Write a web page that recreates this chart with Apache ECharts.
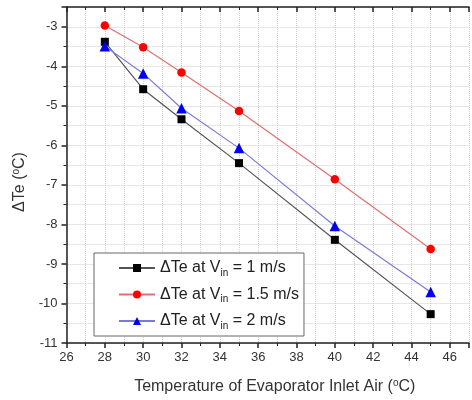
<!DOCTYPE html>
<html><head><meta charset="utf-8">
<script src="https://cdn.jsdelivr.net/npm/echarts@6/dist/echarts.min.js"></script>
<style>html,body{margin:0;padding:0;background:#fff}#c{width:472px;height:400px}</style>
</head><body><div id="c"></div>
<script>
var xValues = [28, 30, 32, 35, 40, 45];
var seriesNames = ['1', '1.5', '2'];
var v1 = [-3.38, -4.58, -5.34, -6.45, -8.39, -10.27];
var v15 = [-2.97, -3.52, -4.16, -5.13, -6.86, -8.62];
var v2 = [-3.49, -4.18, -5.06, -6.07, -8.04, -9.71];
var xTickLabels = [26, 28, 30, 32, 34, 36, 38, 40, 42, 44, 46];
var yTickLabels = [-3, -4, -5, -6, -7, -8, -9, -10, -11];

function pairs(v){ return xValues.map(function(x,i){ return [x, v[i]]; }); }
var font = '"Liberation Sans", Arial, sans-serif';
var chart = echarts.init(document.getElementById('c'), null, {renderer:'canvas'});
var axisLineStyle = {color:'#222', width:1.5};
var gridLine = {show:true, lineStyle:{color:'#cfcfcf', type:'dotted', width:1}};
chart.setOption({
  animation:false,
  backgroundColor:'#fff',
  grid:{left:66.5, top:7, right:-9.5, bottom:56, containLabel:false},
  xAxis:[{
    type:'value', min:26, max:47, interval:2,
    axisLine:{show:true, onZero:false, lineStyle:axisLineStyle},
    axisTick:{show:true, inside:false, length:5, lineStyle:{color:'#222', width:1.5}},
    minorTick:{show:true, splitNumber:2, length:3, lineStyle:{color:'#222', width:1}},
    splitLine:gridLine,
    minorSplitLine:gridLine,
    axisLabel:{color:'#333', fontFamily:font, fontSize:13, margin:8,
      formatter:function(v){ return xTickLabels.indexOf(v) >= 0 ? String(v) : ''; }},
    name:'Temperature of Evaporator Inlet Air ({s|o}C)',
    nameLocation:'middle', nameGap:35,
    nameTextStyle:{color:'#333', fontFamily:font, fontSize:16, padding:[0,0,0,14],
      rich:{s:{fontSize:10, verticalAlign:'top', padding:[0,0,8,0], fontFamily:font, color:'#333'}}}
  },{
    type:'value', position:'top', min:26, max:47, interval:2,
    axisLine:{show:true, onZero:false, lineStyle:axisLineStyle},
    axisTick:{show:true, inside:true, length:5, lineStyle:{color:'#222', width:1.5}},
    minorTick:{show:true, splitNumber:2, length:3, lineStyle:{color:'#222', width:1}},
    axisLabel:{show:false}, splitLine:{show:false}
  }],
  yAxis:{
    type:'value', min:-11, max:-2.5, interval:1,
    axisLine:{show:true, onZero:false, lineStyle:axisLineStyle},
    axisTick:{show:true, inside:false, length:5, lineStyle:{color:'#222', width:1.5}},
    minorTick:{show:true, splitNumber:2, length:3, lineStyle:{color:'#222', width:1}},
    splitLine:gridLine,
    minorSplitLine:gridLine,
    axisLabel:{color:'#333', fontFamily:font, fontSize:13, margin:9,
      formatter:function(v){ return yTickLabels.indexOf(v) >= 0 ? String(v) : ''; }},
    name:'ΔTe ({s|o}C)', nameLocation:'middle', nameGap:25, nameRotate:90,
    nameTextStyle:{color:'#333', fontFamily:font, fontSize:16, padding:[0,14,0,0],
      rich:{s:{fontSize:10, verticalAlign:'top', padding:[0,0,8,0], fontFamily:font, color:'#333'}}}
  },
  legend:{
    orient:'vertical', left:94, top:253,
    backgroundColor:'#fff', borderColor:'#666', borderWidth:1,
    padding:[7, 5, 5, 24], itemGap:8.5, itemWidth:36, itemHeight:10,
    data:seriesNames.map(function(n){ return 'ΔTe at V_in = ' + n + ' m/s'; }),
    formatter:function(name){
      var tail = name.split('_in')[1];
      return '{a|ΔTe at V}{b|in}{a|' + tail + '}';
    },
    textStyle:{color:'#222', fontFamily:font, fontSize:16,
      rich:{a:{fontSize:16, fontFamily:font, color:'#222'},
            b:{fontSize:10, fontFamily:font, color:'#222', verticalAlign:'bottom', padding:[10,0,0,0]}}}
  },
  series:[
    {name:'ΔTe at V_in = 1 m/s', type:'line', data:pairs(v1), symbol:'rect', symbolSize:8,
      itemStyle:{color:'#000'}, lineStyle:{color:'#555', width:1.2}},
    {name:'ΔTe at V_in = 1.5 m/s', type:'line', data:pairs(v15), symbol:'circle', symbolSize:8.5,
      itemStyle:{color:'#f00'}, lineStyle:{color:'#e07070', width:1.2}},
    {name:'ΔTe at V_in = 2 m/s', type:'line', data:pairs(v2), symbol:'triangle', symbolSize:10.5,
      itemStyle:{color:'#0000ee'}, lineStyle:{color:'#7a7ad8', width:1.2}}
  ]
});
</script></body></html>
